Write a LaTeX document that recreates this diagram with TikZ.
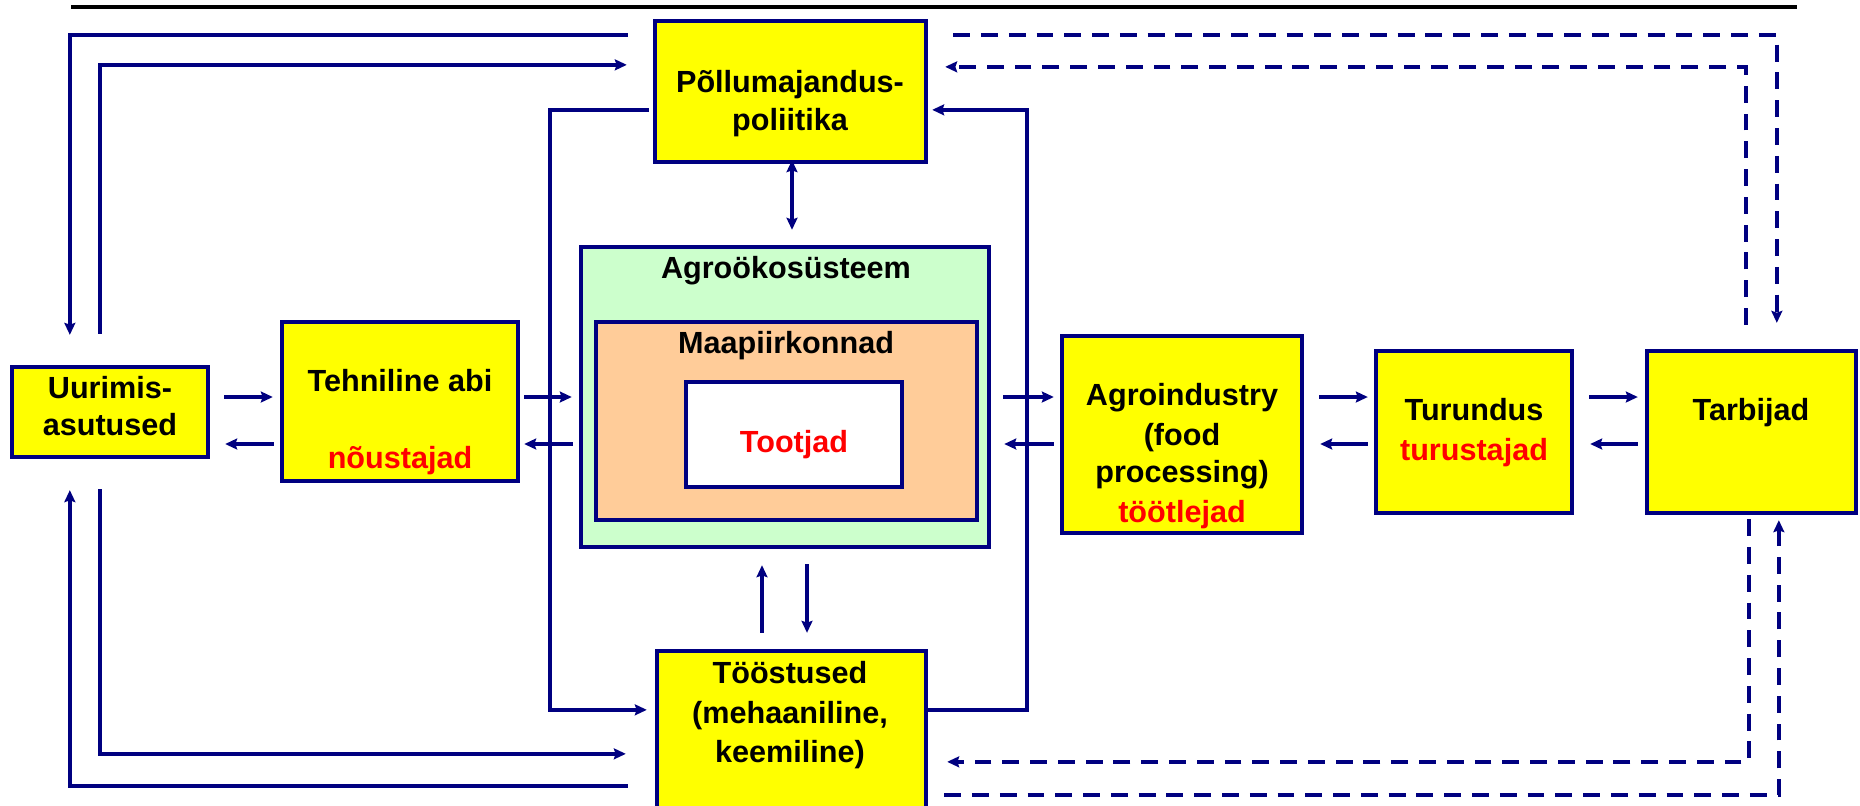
\documentclass[tikz,border=0pt]{standalone}
\usepackage{fontspec}
\setmainfont{Liberation Sans}
\usetikzlibrary{arrows.meta,calc}
\definecolor{navy}{RGB}{0,0,128}
\definecolor{ybox}{RGB}{255,255,0}
\definecolor{agrogreen}{RGB}{204,255,204}
\definecolor{peach}{RGB}{255,204,153}
\begin{document}
\begin{tikzpicture}[x=0.01cm,y=-0.01cm,
  box/.style={draw=navy,line width=1.2pt,inner sep=0pt,rectangle,fill=ybox},
  txt/.style={anchor=base,inner sep=0pt,font=\fontsize{8.7}{11}\selectfont\bfseries},
  rtxt/.style={txt,text=red},
  tip/.tip={Stealth[length=3.4pt,width=3.1pt,inset=0.5pt]},
  con/.style={draw=navy,line width=1.15pt,-tip},
  dcon/.style={con,line width=1.15pt,dash pattern=on 4.8pt off 3.1pt}]
\clip (0,0) rectangle (1860,805);
\fill[white] (0,0) rectangle (1860,805);
% top rule
\draw[black,line width=1.2pt] (71,7) -- (1797,7);
% boxes
\node[box,minimum width=2.71cm,minimum height=1.41cm] (pol) at (790.5,91.5) {};
\node[box,fill=agrogreen,minimum width=4.08cm,minimum height=3.00cm] (agro) at (785,397) {};
\node[box,fill=peach,minimum width=3.81cm,minimum height=1.98cm] (maa) at (786.5,421) {};
\node[box,fill=white,minimum width=2.16cm,minimum height=1.05cm] (toot) at (794,434.5) {};
\node[box,minimum width=1.96cm,minimum height=0.90cm] (uur) at (110,412) {};
\node[box,minimum width=2.36cm,minimum height=1.59cm] (teh) at (400,401.5) {};
\node[box,minimum width=2.40cm,minimum height=1.97cm] (ind) at (1182,434.5) {};
\node[box,minimum width=1.96cm,minimum height=1.62cm] (tur) at (1474,432) {};
\node[box,minimum width=2.09cm,minimum height=1.62cm] (tar) at (1751.5,432) {};
\node[box,minimum width=2.69cm,minimum height=1.79cm] (too) at (791.5,740.5) {};
% texts
\node[txt] (tpol1) at (790,92) {Põllumajandus-};
\node[txt] (tpol2) at (790,130) {poliitika};
\node[txt] (tagro) at (786,278) {Agroökosüsteem};
\node[txt] (tmaa) at (786,353) {Maapiirkonnad};
\node[rtxt] (ttoot) at (794,452) {Tootjad};
\node[txt] (tuur1) at (110,398) {Uurimis-};
\node[txt] (tuur2) at (110,435) {asutused};
\node[txt] (tteh1) at (400,391) {Tehniline abi};
\node[rtxt] (tteh2) at (400,468) {nõustajad};
\node[txt] (tind1) at (1182,405) {Agroindustry};
\node[txt] (tind2) at (1182,445) {(food};
\node[txt] (tind3) at (1182,482) {processing)};
\node[rtxt] (tind4) at (1182,522) {töötlejad};
\node[txt] (ttur1) at (1474,420) {Turundus};
\node[rtxt] (ttur2) at (1474,460) {turustajad};
\node[txt] (ttar) at (1751,420) {Tarbijad};
\node[txt] (ttoo1) at (790,683) {Tööstused};
\node[txt] (ttoo2) at (790,723) {(mehaaniline,};
\node[txt] (ttoo3) at (790,762) {keemiline)};
% row levels
\coordinate (rA) at (0,397);
\coordinate (rB) at (0,444);
% horizontal pairs
\draw[con,shorten <=0.14cm,shorten >=0.07cm] (uur.east|-rA) -- (teh.west|-rA);
\draw[con,shorten <=0.06cm,shorten >=0.15cm] (teh.west|-rB) -- (uur.east|-rB);
\draw[con,shorten <=0.04cm,shorten >=0.07cm] (teh.east|-rA) -- (agro.west|-rA);
\draw[con,shorten <=0.06cm,shorten >=0.04cm] (agro.west|-rB) -- (teh.east|-rB);
\draw[con,shorten <=0.12cm,shorten >=0.06cm] (agro.east|-rA) -- (ind.west|-rA);
\draw[con,shorten <=0.06cm,shorten >=0.13cm] (ind.west|-rB) -- (agro.east|-rB);
\draw[con,shorten <=0.15cm,shorten >=0.06cm] (ind.east|-rA) -- (tur.west|-rA);
\draw[con,shorten <=0.06cm,shorten >=0.16cm] (tur.west|-rB) -- (ind.east|-rB);
\draw[con,shorten <=0.15cm,shorten >=0.07cm] (tur.east|-rA) -- (tar.west|-rA);
\draw[con,shorten <=0.07cm,shorten >=0.16cm] (tar.west|-rB) -- (tur.east|-rB);
% policy <-> research
\draw[con] ($(pol.north west)+(-25,16)$) -| ($(uur.north west)+(60,-30)$);
\draw[con] ($(uur.north west)+(90,-31)$) |- ($(pol.north west)+(-26,46)$);
% policy -> industries (left loop)
\draw[con] ($(pol.north west)+(-4,91)$) -- ++(-99,0) |- ($(too.north west)+(-8,61)$);
% industries -> policy (right loop)
\draw[con] ($(too.north east)+(0,61)$) -- ++(99,0) |- ($(pol.north east)+(4,91)$);
% policy <-> agroecosystem
\draw[con,tip-tip] ($(pol.south)+(1.5,-4)$) -- ($(agro.north)+(7,-15)$);
% agroecosystem <-> industries
\draw[con] ($(agro.south)+(22,15)$) -- ($(too.north)+(15.5,-16)$);
\draw[con] ($(too.north)+(-29.5,-16)$) -- ($(agro.south)+(-23,16)$);
% research <-> industries
\draw[con] ($(uur.south west)+(90,30)$) |- ($(too.north west)+(-29,105)$);
\draw[con] ($(too.north west)+(-27,137)$) -| ($(uur.south west)+(60,31)$);
% dashed: policy <-> consumers
\draw[dcon] ($(pol.north east)+(25,16)$) -| ($(tar.north west)+(132,-26)$);
\draw[dcon] ($(tar.north west)+(101,-24)$) |- ($(pol.north east)+(17,48)$);
% dashed: consumers <-> industries
\draw[dcon] ($(tar.south west)+(104,4)$) |- ($(too.north east)+(19,113)$);
\draw[dcon] ($(too.north east)+(16,146)$) -| ($(tar.south west)+(134,5)$);
\end{tikzpicture}
\end{document}
